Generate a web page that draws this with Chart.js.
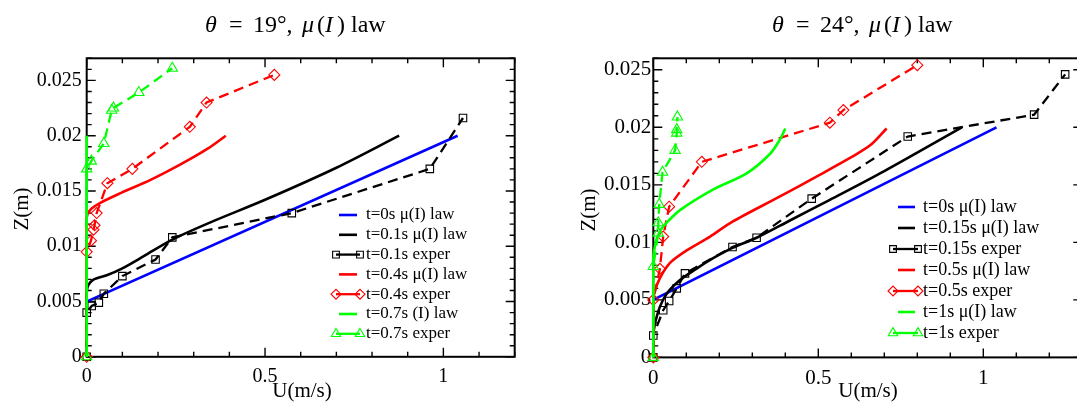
<!DOCTYPE html>
<html>
<head>
<meta charset="utf-8">
<script src="https://cdn.jsdelivr.net/npm/chart.js@4.4.1/dist/chart.umd.min.js"></script>
<style>
html, body { margin: 0; padding: 0; background: #fff; overflow: hidden; }
#wrap { position: relative; width: 1077px; height: 405px; overflow: hidden; background: #fff; }
.box { position: absolute; top: 0; height: 405px; }
#left { left: 0; width: 540px; }
#right { left: 540px; width: 560px; }
</style>
</head>
<body>
<div id="wrap">
  <div class="box" id="left"><canvas id="c1" width="540" height="405"></canvas></div>
  <div class="box" id="right"><canvas id="c2" width="560" height="405"></canvas></div>
</div>
<script>
// ---- data, [U (m/s), Z (m)] ----
// theta = 19 deg
const law0_19  = [[0, 0], [0, 0.005], [1.04, 0.020]];
const law01_19 = [[0, 0], [0, 0.0059], [0.005, 0.0065], [0.02, 0.0070], [0.058, 0.0074], [0.1, 0.0080],
                  [0.16, 0.0091], [0.24, 0.0106], [0.35, 0.0122], [0.5, 0.0142], [0.7, 0.0171], [0.876, 0.0200]];
const exp01_19 = [[0, 0], [0, 0.0040], [0.014, 0.0046], [0.034, 0.0049], [0.048, 0.0057], [0.1, 0.0073],
                  [0.193, 0.0088], [0.24, 0.0108], [0.575, 0.0130], [0.962, 0.0170], [1.055, 0.0216]];
const law04_19 = [[0, 0], [0, 0.0126], [0.01, 0.0133], [0.037, 0.0139], [0.095, 0.0148], [0.179, 0.0160],
                  [0.263, 0.0174], [0.338, 0.0188], [0.39, 0.0200]];
const exp04_19 = [[0, 0], [0, 0.0095], [0.012, 0.0105], [0.019, 0.0115], [0.022, 0.0119], [0.028, 0.0130],
                  [0.058, 0.0157], [0.128, 0.0170], [0.289, 0.0208], [0.336, 0.0230], [0.526, 0.0255]];
const law07_19 = [[0, 0], [0, 0.020]];
const exp07_19 = [[0, 0], [0, 0.0170], [0.013, 0.0177], [0.048, 0.0193], [0.07, 0.0223], [0.075, 0.0225],
                  [0.146, 0.0239], [0.24, 0.0261]];

// theta = 24 deg
const law0_24   = [[0, 0], [0, 0.005], [1.04, 0.020]];
const law015_24 = [[0, 0], [0, 0.0021], [0.015, 0.0040], [0.04, 0.0055], [0.08, 0.0067], [0.13, 0.0077],
                   [0.18, 0.0086], [0.238, 0.0095], [0.313, 0.0104], [0.414, 0.0119], [0.535, 0.0137],
                   [0.70, 0.0162], [0.935, 0.0200]];
const exp015_24 = [[0, 0], [0, 0.0019], [0.03, 0.0041], [0.048, 0.0049], [0.071, 0.0060], [0.096, 0.0073],
                   [0.24, 0.0096], [0.313, 0.0104], [0.48, 0.0138], [0.771, 0.0192], [1.154, 0.0211], [1.248, 0.0246]];
const law05_24  = [[0, 0], [0, 0.0050], [0.005, 0.0058], [0.02, 0.0069], [0.05, 0.0082], [0.101, 0.0093],
                   [0.172, 0.0105], [0.24, 0.0118], [0.384, 0.0140], [0.50, 0.0158], [0.60, 0.0174],
                   [0.66, 0.0185], [0.707, 0.0199]];
const exp05_24  = [[0, 0], [0, 0.0050], [0.02, 0.0077], [0.03, 0.0105], [0.048, 0.0131], [0.147, 0.0170],
                   [0.535, 0.0204], [0.576, 0.0215], [0.80, 0.0254]];
const law1_24   = [[0, 0], [0, 0.0086], [0.004, 0.0095], [0.01, 0.0103], [0.025, 0.0112], [0.04, 0.0117],
                   [0.081, 0.0128], [0.182, 0.0146], [0.283, 0.0160], [0.354, 0.0177], [0.385, 0.0190], [0.40, 0.0199]];
const exp1_24   = [[0, 0], [0, 0.0079], [0.015, 0.0108], [0.015, 0.0117], [0.018, 0.0133], [0.028, 0.0161],
                   [0.066, 0.0180], [0.071, 0.0195], [0.071, 0.0198], [0.073, 0.0209]];

const labels19 = ['t=0s μ(I) law', 't=0.1s μ(I) law', 't=0.1s exper', 't=0.4s μ(I) law', 't=0.4s exper', 't=0.7s (I) law', 't=0.7s exper'];
const labels24 = ['t=0s μ(I) law', 't=0.15s μ(I) law', 't=0.15s exper', 't=0.5s μ(I) law', 't=0.5s exper', 't=1s μ(I) law', 't=1s exper'];
const series19 = [law0_19, law01_19, exp01_19, law04_19, exp04_19, law07_19, exp07_19];
const series24 = [law0_24, law015_24, exp015_24, law05_24, exp05_24, law1_24, exp1_24];

const xTicks = [0, 0.5, 1];
const yTicks = [0, 0.005, 0.01, 0.015, 0.02, 0.025];

const colors  = ['#0000ff', '#000000', '#000000', '#ff0000', '#ff0000', '#00ff00', '#00ff00'];
const kinds   = ['law', 'law', 'exp', 'law', 'exp', 'law', 'exp'];
const markers = [null, null, 'rect', null, 'rectRot', null, 'triangle'];
const radii   = [0, 0, 5.3, 0, 5.5, 0, 6];

const SERIF = '"Liberation Serif", "Times New Roman", serif';

function fmt(v) {
  return String(parseFloat(Number(v).toFixed(4)));
}

function buildSets(series, labels) {
  return series.map((pts, i) => {
    const exp = kinds[i] === 'exp';
    return {
      label: labels[i],
      data: pts.map(p => ({ x: p[0], y: p[1] })),
      showLine: true,
      borderColor: colors[i],
      borderWidth: exp ? 2.3 : 2.6,
      borderDash: exp ? [10, 6] : [],
      pointStyle: exp ? markers[i] : false,
      pointRadius: radii[i],
      pointHoverRadius: radii[i],
      pointBorderWidth: 1.1,
      pointBorderColor: colors[i],
      pointBackgroundColor: 'rgba(0,0,0,0)',
      // smooth only the model curves that have enough points
      tension: (!exp && pts.length > 3) ? 0.3 : 0,
      fill: false,
      clip: false,
      order: 20 - i
    };
  });
}

function decoPlugin(c) {
  return {
    id: 'deco',
    beforeDatasetsDraw(chart) {
      const { ctx, chartArea: a, scales: { x, y } } = chart;
      ctx.save();
      ctx.strokeStyle = '#000';
      ctx.lineWidth = 1.4;
      ctx.beginPath();
      for (let k = 0; k * 0.1 <= x.max + 1e-9; k++) {
        const px = x.getPixelForValue(k * 0.1);
        const len = k % 5 === 0 ? 9 : 5;
        ctx.moveTo(px, a.bottom); ctx.lineTo(px, a.bottom - len);
        ctx.moveTo(px, a.top); ctx.lineTo(px, a.top + len);
      }
      for (let k = 0; k * 0.001 <= y.max + 1e-9; k++) {
        const py = y.getPixelForValue(k * 0.001);
        const len = k % 5 === 0 ? 9 : 5;
        ctx.moveTo(a.left, py); ctx.lineTo(a.left + len, py);
        ctx.moveTo(a.right, py); ctx.lineTo(a.right - len, py);
      }
      ctx.stroke();
      ctx.lineWidth = 2;
      ctx.strokeRect(a.left, a.top, a.right - a.left, a.bottom - a.top);
      ctx.restore();
    },
    afterDraw(chart) {
      const ctx = chart.ctx;
      ctx.save();
      ctx.fillStyle = '#000';

      // title, math parts in italic, placed like the typeset original
      ctx.textBaseline = 'alphabetic';
      ctx.textAlign = 'left';
      c.title.forEach(p => {
        ctx.font = (p.i ? 'italic ' : '') + c.titleSize + 'px ' + SERIF;
        ctx.fillText(p.t, c.titleX + p.dx, c.titleY);
      });

      // axis titles
      ctx.font = c.axisSize + 'px ' + SERIF;
      ctx.textAlign = 'center';
      ctx.textBaseline = 'middle';
      ctx.fillText('U(m/s)', c.uX, c.uY);
      ctx.save();
      ctx.translate(c.zX, c.zY);
      ctx.rotate(-Math.PI / 2);
      ctx.fillText('Z(m)', 0, 0);
      ctx.restore();

      // legend
      const L = c.legend;
      ctx.textAlign = 'left';
      ctx.font = L.size + 'px ' + SERIF;
      chart.data.datasets.forEach((ds, i) => {
        const yy = L.y0 + i * L.dy;
        ctx.strokeStyle = colors[i];
        ctx.setLineDash([]);
        if (kinds[i] === 'exp') {
          ctx.lineWidth = 2.3;
          ctx.beginPath(); ctx.moveTo(L.ex0, yy); ctx.lineTo(L.ex1, yy); ctx.stroke();
          ctx.lineWidth = 1.1;
          ctx.fillStyle = 'rgba(0,0,0,0)';
          const st = { pointStyle: markers[i], radius: radii[i] * 0.9, borderWidth: 1.1, rotation: 0 };
          Chart.helpers.drawPoint(ctx, st, L.ex0, yy);
          Chart.helpers.drawPoint(ctx, st, L.ex1, yy);
        } else {
          ctx.lineWidth = 2.6;
          ctx.beginPath(); ctx.moveTo(L.lx0, yy); ctx.lineTo(L.lx1, yy); ctx.stroke();
        }
        ctx.fillStyle = '#000';
        ctx.fillText(ds.label, L.tx, yy);
      });
      ctx.restore();
    }
  };
}

function makeChart(id, series, labels, c) {
  return new Chart(document.getElementById(id), {
    type: 'scatter',
    data: { datasets: buildSets(series, labels) },
    options: {
      responsive: false,
      animation: false,
      events: [],
      layout: { padding: { left: 0, top: c.top, right: c.right, bottom: 0 } },
      plugins: { legend: { display: false }, tooltip: { enabled: false }, title: { display: false } },
      scales: {
        x: {
          type: 'linear', min: 0, max: c.xMax,
          grid: { display: false, drawTicks: false }, border: { display: false },
          afterBuildTicks: s => { s.ticks = xTicks.map(v => ({ value: v })); },
          ticks: { autoSkip: false, maxRotation: 0, padding: c.xPad, color: '#000',
                   font: { family: SERIF, size: c.tickSize }, callback: v => fmt(v) },
          afterFit: s => { s.height = c.bottom; s.paddingLeft = 0; s.paddingRight = 0; }
        },
        y: {
          type: 'linear', min: 0, max: c.yMax,
          grid: { display: false, drawTicks: false }, border: { display: false },
          afterBuildTicks: s => { s.ticks = yTicks.map(v => ({ value: v })); },
          ticks: { autoSkip: false, padding: c.yPad, color: '#000',
                   font: { family: SERIF, size: c.tickSize }, callback: v => fmt(v) },
          afterFit: s => { s.width = c.left; s.paddingTop = 0; s.paddingBottom = 0; }
        }
      }
    },
    plugins: [decoPlugin(c)]
  });
}

function titleParts(angle) {
  return [
    { t: 'θ', i: true, dx: -100 }, { t: '=', dx: -76 }, { t: angle + '°,', dx: -52 },
    { t: 'μ', i: true, dx: -3 }, { t: '(', dx: 12 }, { t: 'I', i: true, dx: 20 },
    { t: ')', dx: 32 }, { t: 'law', dx: 46 }
  ];
}

makeChart('c1', series19, labels19, {
  xMax: 1.2, yMax: 0.027,
  left: 86.7, top: 58.3, right: 25.3, bottom: 48.2,
  tickSize: 20, xPad: 8, yPad: 5,
  title: titleParts(19), titleSize: 24, titleX: 305, titleY: 32,
  axisSize: 21, uX: 302, uY: 391, zX: 22, zY: 209,
  legend: { lx0: 339, lx1: 357, ex0: 336, ex1: 360, tx: 366, y0: 215, dy: 19.8, size: 17 }
});

makeChart('c2', series24, labels24, {
  xMax: 1.3, yMax: 0.026,
  left: 113.3, top: 58.3, right: 17.7, bottom: 47.6,
  tickSize: 21, xPad: 8, yPad: 2,
  title: titleParts(24), titleSize: 24, titleX: 332, titleY: 32,
  axisSize: 21, uX: 328, uY: 391, zX: 49, zY: 210,
  legend: { lx0: 358, lx1: 375, ex0: 353, ex1: 378, tx: 383, y0: 207, dy: 21, size: 18 }
});
</script>
</body>
</html>
